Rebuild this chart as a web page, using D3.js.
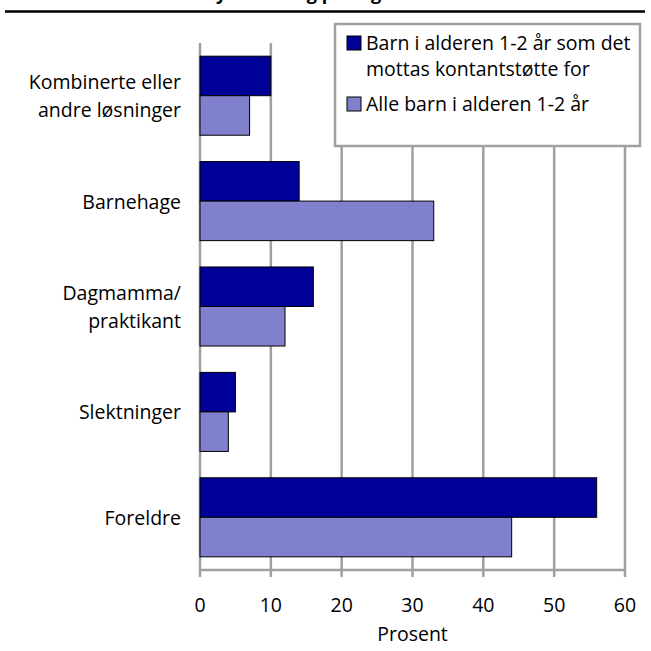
<!DOCTYPE html>
<html>
<head>
<meta charset="utf-8">
<script src="https://cdn.jsdelivr.net/npm/d3@7"></script>
<style>
  body { margin: 0; background: #fff; }
  svg { display: block; font-family: "Open Sans", sans-serif; }
</style>
</head>
<body>
<div id="chart"></div>
<script>
// categories, top to bottom
var categories = [
  ["Kombinerte eller", "andre løsninger"],
  ["Barnehage"],
  ["Dagmamma/", "praktikant"],
  ["Slektninger"],
  ["Foreldre"]
];
var seriesNames = [
  ["Barn i alderen 1-2 år som det", "mottas kontantstøtte for"],
  ["Alle barn i alderen 1-2 år"]
];
var kontantstotte = [10, 14, 16, 5, 56];
var alleBarn = [7, 33, 12, 4, 44];
var xTicks = [0, 10, 20, 30, 40, 50, 60];
var colors = ["#000099", "#8080cc"];
var title = "Barn 1-2 år etter tilsynsordning på dagtid";

var W = 651, H = 651;
var margin = { top: 43, right: 26, bottom: 81, left: 200 };
var w = W - margin.left - margin.right,
    h = H - margin.top - margin.bottom;
var fs = "19.5px";

var svg = d3.select("#chart").append("svg")
  .attr("width", W)
  .attr("height", H);

// title (cut off at top of the picture, as in the original)
// measure the part before the "y" so the descenders land where they do in the picture
var probe = svg.append("text")
  .style("font-size", "18px")
  .style("font-weight", "bold")
  .text(title.slice(0, title.indexOf("y")));
var pre = probe.node().getComputedTextLength();
probe.remove();

svg.append("text")
  .attr("x", 216 - pre)
  .attr("y", 0)
  .style("font-size", "18px")
  .style("font-weight", "bold")
  .text(title);

svg.append("line")
  .attr("x1", 5).attr("x2", 645)
  .attr("y1", 11.5).attr("y2", 11.5)
  .style("stroke", "#000")
  .style("stroke-width", 2.5);

var g = svg.append("g")
  .attr("transform", "translate(" + margin.left + "," + margin.top + ")");

var x = d3.scaleLinear().domain([0, 60]).range([0, w]);
var y = d3.scaleBand()
  .domain(d3.range(categories.length))
  .range([0, h])
  .paddingInner(0.25)
  .paddingOuter(0.125);

// grid lines
g.selectAll(".grid")
  .data(xTicks)
  .enter().append("line")
  .attr("x1", function (d) { return x(d); })
  .attr("x2", function (d) { return x(d); })
  .attr("y1", 0)
  .attr("y2", h + 7)
  .style("stroke", "#a0a0a0")
  .style("stroke-width", 2.5);

// bottom axis line
g.append("line")
  .attr("x1", 0).attr("x2", w)
  .attr("y1", h).attr("y2", h)
  .style("stroke", "#a0a0a0")
  .style("stroke-width", 2.5);

// tick labels
g.selectAll(".tick")
  .data(xTicks)
  .enter().append("text")
  .attr("x", function (d) { return x(d); })
  .attr("y", h + 42)
  .attr("text-anchor", "middle")
  .style("font-size", fs)
  .text(function (d) { return d; });

g.append("text")
  .attr("x", w / 2)
  .attr("y", h + 71)
  .attr("text-anchor", "middle")
  .style("font-size", fs)
  .text("Prosent");

// bars
var half = y.bandwidth() / 2;
[kontantstotte, alleBarn].forEach(function (vals, s) {
  g.selectAll(".bar" + s)
    .data(vals)
    .enter().append("rect")
    .attr("x", x(0))
    .attr("y", function (d, i) { return y(i) + s * half; })
    .attr("width", function (d) { return x(d) - x(0); })
    .attr("height", half)
    .style("fill", colors[s])
    .style("stroke", "#000")
    .style("stroke-width", 1);
});

// category labels
var lab = g.selectAll(".cat")
  .data(categories)
  .enter().append("text")
  .attr("text-anchor", "end")
  .style("font-size", fs)
  .attr("transform", function (d, i) {
    return "translate(-19," + (y(i) + half) + ")";
  });
lab.selectAll("tspan")
  .data(function (d) { return d.map(function (t, k) { return [t, k, d.length]; }); })
  .enter().append("tspan")
  .attr("x", 0)
  .attr("y", function (d) { return (d[1] - (d[2] - 1) / 2) * 28 + 7.5; })
  .text(function (d) { return d[0]; });

// legend
var leg = svg.append("g").attr("transform", "translate(335,24)");
leg.append("rect")
  .attr("width", 305).attr("height", 122)
  .style("fill", "#fff")
  .style("stroke", "#a0a0a0")
  .style("stroke-width", 2.5);
var legY = [12, 73];
seriesNames.forEach(function (lines, s) {
  leg.append("rect")
    .attr("x", 12).attr("y", legY[s])
    .attr("width", 14).attr("height", 14)
    .style("fill", colors[s])
    .style("stroke", "#000")
    .style("stroke-width", 1);
  var t = leg.append("text").style("font-size", fs);
  lines.forEach(function (line, k) {
    t.append("tspan")
      .attr("x", 31)
      .attr("y", legY[s] + 14 + k * 25.5)
      .text(line);
  });
});
</script>
</body>
</html>
